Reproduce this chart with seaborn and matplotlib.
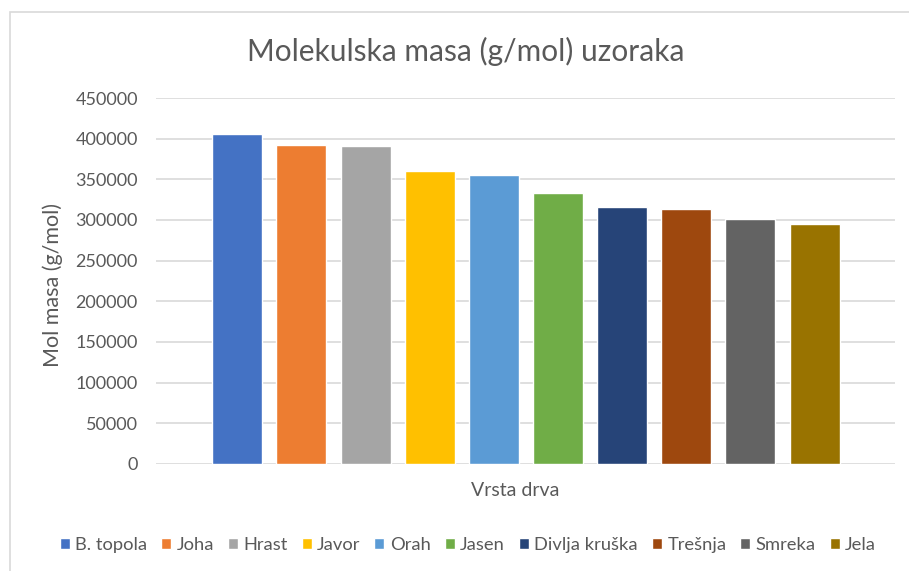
import matplotlib
matplotlib.use('Agg')
import matplotlib.pyplot as plt
import seaborn as sns
import pandas as pd
from matplotlib.patches import Rectangle

# data
vrste = ['B. topola', 'Joha', 'Hrast', 'Javor', 'Orah', 'Jasen',
         'Divlja kruška', 'Trešnja', 'Smreka', 'Jela']
mol_masa = [405800, 392200, 390600, 359800, 354900, 333100,
            315500, 313400, 300900, 295400]
boje = ['#4472C4', '#ED7D31', '#A5A5A5', '#FFC000', '#5B9BD5', '#70AD47',
        '#264478', '#9E480E', '#636363', '#997300']
y_ticks = list(range(0, 450001, 50000))

df = pd.DataFrame({'vrsta': vrste, 'masa': mol_masa})

sns.set_style('white')
plt.rcParams['font.family'] = ['Lato', 'DejaVu Sans']
tekst = '#595959'

fig = plt.figure(figsize=(9.09, 5.71), dpi=100)
ax = fig.add_axes([156 / 909, 1 - 464 / 571, (895 - 156) / 909, (464 - 98) / 571])

sns.barplot(data=df, x='vrsta', y='masa', hue='vrsta', palette=boje,
            width=0.78, saturation=1, ax=ax, legend=True)

ax.set_xlim(-1.266, 10.253)
ax.set_ylim(0, 450000)
ax.set_yticks(y_ticks)
ax.set_yticklabels([str(v) for v in y_ticks])
ax.set_xticks([])
ax.tick_params(axis='y', length=0, pad=13, labelsize=13, labelcolor=tekst)
ax.grid(axis='y', color='#d9d9d9', linewidth=1.2)
ax.set_axisbelow(True)
for s in ax.spines.values():
    s.set_visible(False)

ax.set_ylabel('Mol masa (g/mol)', fontsize=15.5, color=tekst)
ax.yaxis.set_label_coords(-0.126, 0.489)
ax.set_xlabel('Vrsta drva', fontsize=14, color=tekst)
ax.xaxis.set_label_coords(0.486, -0.05)

fig.text(466 / 909, 1 - 51 / 571, 'Molekulska masa (g/mol) uzoraka',
         ha='center', va='center', fontsize=21.5, color=tekst)

sns.move_legend(ax, 'center', bbox_to_anchor=(468 / 909, 1 - 545 / 571),
                bbox_transform=fig.transFigure, ncol=10, frameon=False,
                title=None, fontsize=13.2, handlelength=0.55, handleheight=0.55,
                handletextpad=0.3, columnspacing=0.75, labelcolor=tekst)

fig.patches.append(Rectangle((10 / 909, -0.1), 1.2, 1 - 12 / 571 + 0.1,
                             transform=fig.transFigure, fill=False,
                             edgecolor='#d9d9d9', linewidth=1.2))

plt.savefig('out.png', dpi=100)
plt.close()
